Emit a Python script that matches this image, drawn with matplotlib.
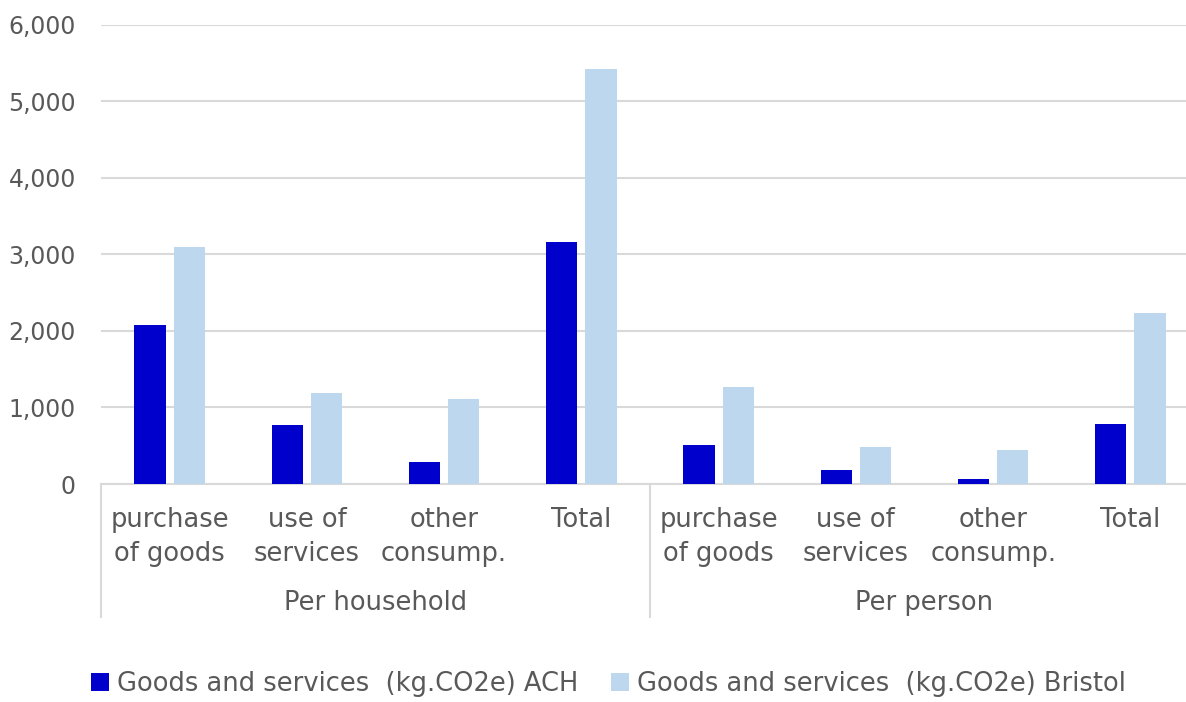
import matplotlib
matplotlib.use("Agg")
import matplotlib.pyplot as plt
import numpy as np
from matplotlib.ticker import FuncFormatter

# categories on the inner level of the x axis, repeated for each group
categories = ["purchase\nof goods", "use of\nservices", "other\nconsump.", "Total"]
groups = ["Per household", "Per person"]

# kg CO2e per household / per person
ach_values = [2080, 770, 290, 3160, 510, 183, 65, 780]
bristol_values = [3100, 1190, 1110, 5420, 1270, 483, 449, 2230]

series_names = ["Goods and services  (kg.CO2e) ACH", "Goods and services  (kg.CO2e) Bristol"]
series_colors = ["#0000CC", "#BDD7EE"]

TEXT_COLOR = "#595959"
GRID_COLOR = "#D9D9D9"
TICK_SIZE = 17
LABEL_SIZE = 18.5

plt.rcParams["font.family"] = ["DejaVu Sans"]

fig = plt.figure(figsize=(11.86, 7.02), dpi=100)
ax = fig.add_axes([101 / 1186, 1 - 484 / 702, 1098 / 1186, (484 - 24.7) / 702])

x = np.arange(len(ach_values))
bar_width = 0.226
offset = 0.143
ax.bar(x - offset, ach_values, bar_width, color=series_colors[0], label=series_names[0], zorder=3)
ax.bar(x + offset, bristol_values, bar_width, color=series_colors[1], label=series_names[1], zorder=3)

ax.set_xlim(-0.5, len(x) - 0.5)
ax.set_ylim(0, 6000)
ax.set_yticks(np.arange(0, 6001, 1000))
ax.yaxis.set_major_formatter(FuncFormatter(lambda v, _: f"{int(v):,}"))
ax.tick_params(axis="y", length=0, pad=18, labelsize=TICK_SIZE, labelcolor=TEXT_COLOR)
ax.tick_params(axis="x", length=0, labelbottom=False)
ax.grid(axis="y", color=GRID_COLOR, lw=1.5, zorder=0)
ax.set_axisbelow(True)
for side in ["left", "right", "top"]:
    ax.spines[side].set_visible(False)
ax.spines["bottom"].set_color(GRID_COLOR)
ax.spines["bottom"].set_linewidth(1.5)

# two-level category axis: inner labels, group labels and separators
trans = ax.get_xaxis_transform()
for i, xi in enumerate(x):
    ax.text(xi, -0.05, categories[i % len(categories)], transform=trans, ha="center", va="top",
            fontsize=LABEL_SIZE, color=TEXT_COLOR, linespacing=1.4)
for g, name in enumerate(groups):
    center = g * len(categories) + (len(categories) - 1) / 2
    ax.text(center, -0.259, name, transform=trans, ha="center", va="center",
            fontsize=LABEL_SIZE, color=TEXT_COLOR)
for edge in [-0.5, len(categories) - 0.5]:
    ax.plot([edge, edge], [0, -0.29], transform=trans, color=GRID_COLOR, lw=1.5, clip_on=False)

fig.legend(loc="center", bbox_to_anchor=(0.513, 0.026), ncol=2, frameon=False,
           fontsize=LABEL_SIZE, labelcolor=TEXT_COLOR, handlelength=0.7, handleheight=0.7,
           handletextpad=0.3, columnspacing=1.3, borderpad=0.2)

fig.savefig("out.png", dpi=100)
